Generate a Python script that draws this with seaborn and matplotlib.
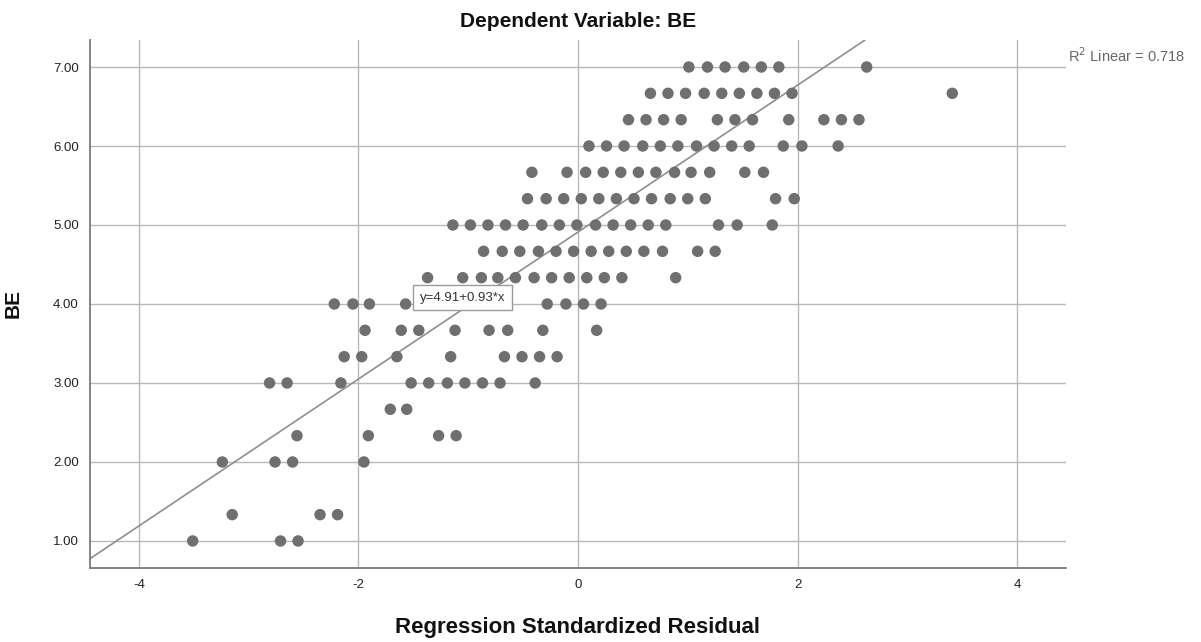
import numpy as np
import pandas as pd
import matplotlib
matplotlib.use("Agg")
import matplotlib.pyplot as plt
import seaborn as sns

# ---- data ----
be_levels = [7.00, 6.667, 6.333, 6.00, 5.667, 5.333, 5.00, 4.667, 4.333,
             4.00, 3.667, 3.333, 3.00, 2.667, 2.333, 2.00, 1.333, 1.00]

resid_700 = [1.01, 1.18, 1.34, 1.51, 1.67, 1.83, 2.63]
resid_667 = [0.66, 0.82, 0.98, 1.15, 1.31, 1.47, 1.63, 1.79, 1.95, 3.41]
resid_633 = [0.46, 0.62, 0.78, 0.94, 1.27, 1.43, 1.59, 1.92, 2.24, 2.40, 2.56]
resid_600 = [0.10, 0.26, 0.42, 0.59, 0.75, 0.91, 1.08, 1.24, 1.40, 1.56, 1.87, 2.04, 2.37]
resid_567 = [-0.42, -0.10, 0.07, 0.23, 0.39, 0.55, 0.71, 0.88, 1.03, 1.20, 1.52, 1.69]
resid_533 = [-0.46, -0.29, -0.13, 0.03, 0.19, 0.35, 0.51, 0.67, 0.84, 1.00, 1.16, 1.80, 1.97]
resid_500 = [-1.14, -0.98, -0.82, -0.66, -0.50, -0.33, -0.17, -0.01, 0.16, 0.32, 0.48,
             0.64, 0.80, 1.28, 1.45, 1.77]
resid_467 = [-0.86, -0.69, -0.53, -0.36, -0.20, -0.04, 0.12, 0.28, 0.44, 0.60, 0.77, 1.09, 1.25]
resid_433 = [-1.37, -1.05, -0.88, -0.73, -0.57, -0.40, -0.24, -0.08, 0.08, 0.24, 0.40, 0.89]
resid_400 = [-2.22, -2.05, -1.90, -1.57, -0.28, -0.11, 0.05, 0.21]
resid_367 = [-1.94, -1.61, -1.45, -1.12, -0.81, -0.64, -0.32, 0.17]
resid_333 = [-2.13, -1.97, -1.65, -1.16, -0.67, -0.51, -0.35, -0.19]
resid_300 = [-2.81, -2.65, -2.16, -1.52, -1.36, -1.19, -1.03, -0.87, -0.71, -0.39]
resid_267 = [-1.71, -1.56]
resid_233 = [-2.56, -1.91, -1.27, -1.11]
resid_200 = [-3.24, -2.76, -2.60, -1.95]
resid_133 = [-3.15, -2.35, -2.19]
resid_100 = [-3.51, -2.71, -2.55]

resid_rows = [resid_700, resid_667, resid_633, resid_600, resid_567, resid_533,
              resid_500, resid_467, resid_433, resid_400, resid_367, resid_333,
              resid_300, resid_267, resid_233, resid_200, resid_133, resid_100]

fit_intercept = 4.91
fit_slope = 0.93
r_squared = 0.718

x_ticks = [-4, -2, 0, 2, 4]
y_ticks = [1, 2, 3, 4, 5, 6, 7]
y_tick_labels = ["1.00", "2.00", "3.00", "4.00", "5.00", "6.00", "7.00"]

title_text = "Dependent Variable: BE"
x_label = "Regression Standardized Residual"
y_label = "BE"

# ---- build table ----
rows = []
for lvl, xs in zip(be_levels, resid_rows):
    for xv in xs:
        rows.append((xv, lvl))
df = pd.DataFrame(rows, columns=["resid", "BE"])

# ---- plot ----
sns.set_style("white")
plt.rcParams["font.family"] = ["Liberation Sans", "DejaVu Sans"]

fig = plt.figure(figsize=(12.01, 6.42), dpi=100)
ax = fig.add_axes([0.0749, 0.1153, 0.8127, 0.8224])

grid_c = "#b8b8b8"
for xt in x_ticks:
    ax.axvline(xt, color=grid_c, lw=1.0, zorder=0)
for yt in y_ticks:
    ax.axhline(yt, color=grid_c, lw=1.0, zorder=0)

sns.scatterplot(data=df, x="resid", y="BE", ax=ax, color="#6f6f6f",
                s=68, edgecolor="none", linewidth=0, zorder=3)

ax.axline((0, fit_intercept), slope=fit_slope, color="#8e8e8e", lw=1.2, zorder=2)

ax.set_xlim(-4.446, 4.446)
ax.set_ylim(0.658, 7.342)
ax.set_xticks(x_ticks)
ax.set_xticklabels([str(t) for t in x_ticks])
ax.set_yticks(y_ticks)
ax.set_yticklabels(y_tick_labels)
ax.tick_params(axis="both", length=0, labelsize=9.5, colors="#222222", pad=8)

for side in ["top", "right"]:
    ax.spines[side].set_visible(False)
for side in ["left", "bottom"]:
    ax.spines[side].set_color("#7a7a7a")
    ax.spines[side].set_linewidth(1.3)

ax.set_xlabel(x_label, fontsize=16, fontweight="bold", labelpad=19, color="#111111")
ax.set_ylabel(y_label, fontsize=15, fontweight="bold", labelpad=22, color="#111111")
ax.set_title(title_text, fontsize=15, fontweight="bold", pad=9, color="#111111")

ax.text(-1.44, 4.08, f"y={fit_intercept:.2f}+{fit_slope:.2f}*x", fontsize=9.5,
        color="#333333", ha="left", va="center", zorder=5,
        bbox=dict(boxstyle="square,pad=0.5", fc="white", ec="#9a9a9a", lw=1.0))

fig.text(0.889, 0.914, f"R$^2$ Linear = {r_squared:.3f}", fontsize=10.5,
         color="#666666", ha="left", va="center")

fig.savefig("out.png", dpi=100)
